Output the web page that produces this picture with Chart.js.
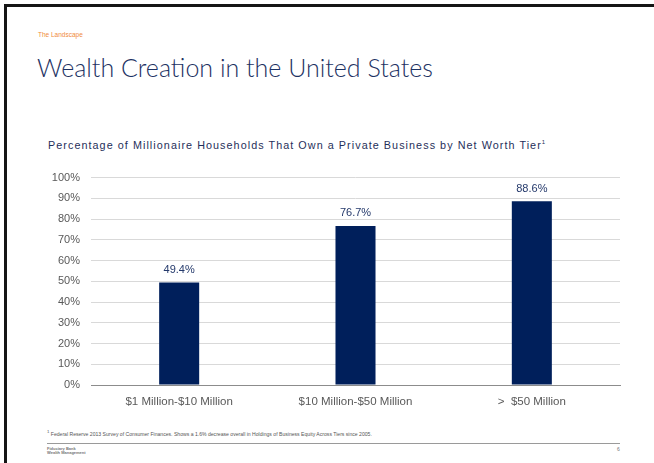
<!DOCTYPE html>
<html>
<head>
<meta charset="utf-8">
<script src="https://cdn.jsdelivr.net/npm/chart.js@4"></script>
<style>
    html, body { margin: 0; padding: 0; background: #fff; }
    body { width: 654px; height: 463px; position: relative; overflow: hidden; font-family: "Liberation Sans", Arial, sans-serif; }
    .frame-top { position: absolute; left: 4px; top: 4px; width: 650px; height: 3px; background: #151515; }
    .frame-left { position: absolute; left: 4px; top: 4px; width: 3px; height: 459px; background: #151515; }
    .kicker { position: absolute; left: 38px; top: 31px; font-size: 6.5px; color: #f08a3c; }
    .title { position: absolute; left: 37px; top: 52px; font-family: Lato, "Open Sans", sans-serif; font-weight: 300; font-size: 25px; color: #1d3263; white-space: nowrap; }
    .subtitle { position: absolute; left: 48px; top: 139px; font-size: 10.8px; color: #1f2f5a; letter-spacing: 1.05px; white-space: nowrap; }
    .subtitle sup { font-size: 6px; letter-spacing: 0; }
    .chart-wrap { position: absolute; left: 0; top: 160px; width: 654px; height: 260px; }
    .footnote { position: absolute; left: 47px; top: 429px; font-size: 5.1px; color: #555; white-space: nowrap; }
    .rule { position: absolute; left: 47px; top: 443px; width: 573px; height: 1px; background: #9a9a9a; }
    .logo { position: absolute; left: 47px; top: 447px; font-size: 4px; line-height: 4px; color: #777; font-weight: bold; }
    .page { position: absolute; left: 617px; top: 446px; font-size: 5px; color: #777; }
</style>
</head>
<body>
<div class="frame-top"></div>
<div class="frame-left"></div>
<div class="kicker">The Landscape</div>
<div class="title">Wealth Creation in the United States</div>
<div class="subtitle">Percentage of Millionaire Households That Own a Private Business by Net Worth Tier<sup>1</sup></div>
<div class="chart-wrap"><canvas id="wealthChart"></canvas></div>
<div class="footnote"><sup>1</sup> Federal Reserve 2013 Survey of Consumer Finances. Shows a 1.6% decrease overall in Holdings of Business Equity Across Tiers since 2005.</div>
<div class="rule"></div>
<div class="logo">Fiduciary Bank<br>Wealth Management</div>
<div class="page">6</div>

<script>
// 資料
const tiers = ['$1 Million-$10 Million', '$10 Million-$50 Million', '>  $50 Million'];
const ownershipPct = [49.4, 76.7, 88.6];
const yTicks = [0, 10, 20, 30, 40, 50, 60, 70, 80, 90, 100];

// 在長條上方畫數值標籤
const barValueLabels = {
    id: 'barValueLabels',
    afterDatasetsDraw(chart) {
        const ctx = chart.ctx;
        const meta = chart.getDatasetMeta(0);
        ctx.save();
        ctx.font = '11px "Liberation Sans", Arial, sans-serif';
        ctx.fillStyle = '#24396b';
        ctx.textAlign = 'center';
        ctx.textBaseline = 'bottom';
        meta.data.forEach((bar, i) => {
            ctx.fillText(ownershipPct[i].toFixed(1) + '%', bar.x, bar.y - 7);
        });
        ctx.restore();
    }
};

new Chart(document.getElementById('wealthChart').getContext('2d'), {
    type: 'bar',
    data: {
        labels: tiers,
        datasets: [{
            data: ownershipPct,
            backgroundColor: '#001f5b',
            borderWidth: 0,
            barPercentage: 0.227,
            categoryPercentage: 1
        }]
    },
    options: {
        responsive: true,
        maintainAspectRatio: false,
        animation: false,
        layout: { padding: { left: 0, right: 34, top: 16, bottom: 0 } },
        plugins: {
            legend: { display: false },
            tooltip: { enabled: false }
        },
        scales: {
            x: {
                grid: { display: false, drawTicks: false },
                border: { color: '#8c8c8c', width: 1 },
                ticks: {
                    color: '#595959',
                    padding: 10,
                    font: { family: '"Liberation Sans", Arial, sans-serif', size: 11.5 }
                },
                afterFit(scale) { scale.height = 35; }
            },
            y: {
                min: 0,
                max: 100,
                afterBuildTicks(scale) { scale.ticks = yTicks.map(v => ({ value: v })); },
                grid: { color: '#d9d9d9', drawTicks: false },
                border: { display: false },
                ticks: {
                    color: '#595959',
                    padding: 11,
                    font: { family: '"Liberation Sans", Arial, sans-serif', size: 11 },
                    callback: v => v + '%'
                },
                afterFit(scale) { scale.width = 91; }
            }
        }
    },
    plugins: [barValueLabels]
});
</script>
</body>
</html>
